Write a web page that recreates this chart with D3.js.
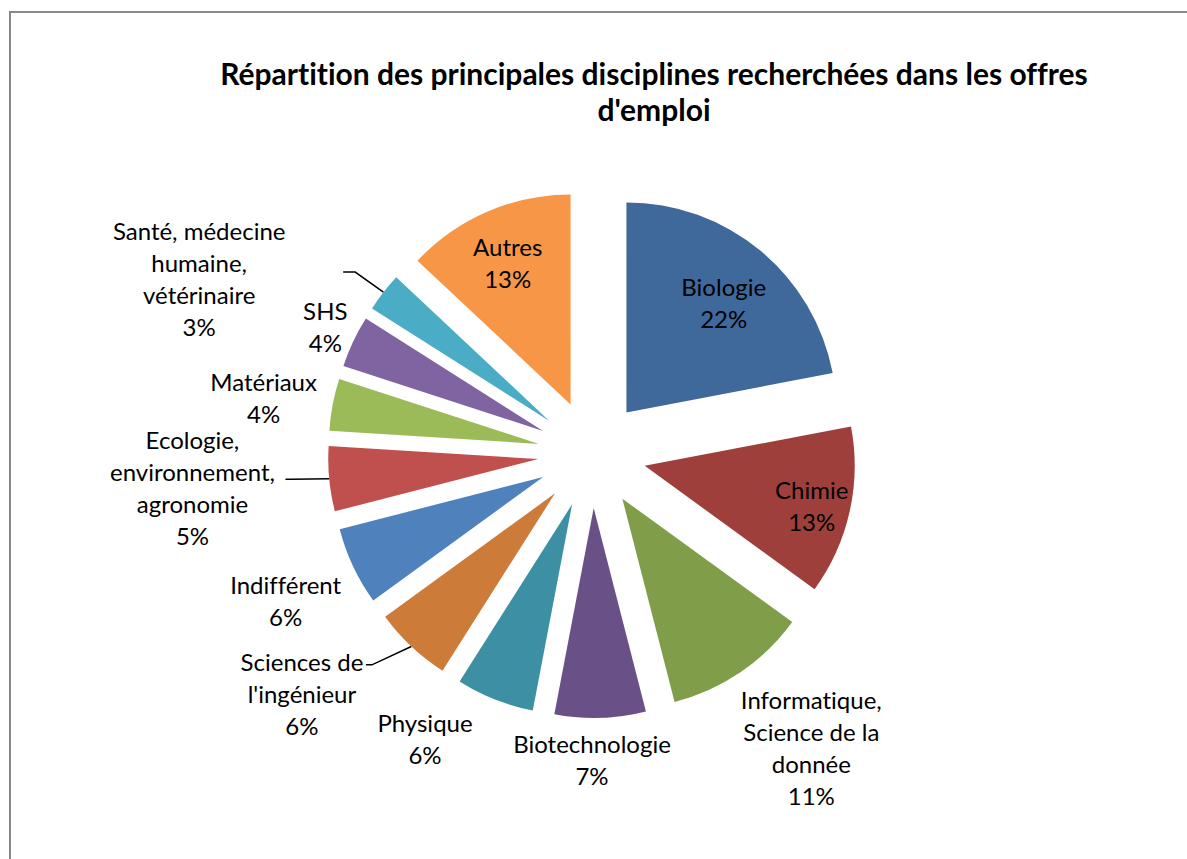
<!DOCTYPE html>
<html lang="fr">
<head>
<meta charset="utf-8">
<script src="https://d3js.org/d3.v7.min.js"></script>
<style type="text/css">
body {
	margin: 0;
	background: #fff;
}
text {
	font-family: Lato, "Open Sans", sans-serif;
	font-variant-ligatures: none;
	fill: #000;
}
</style>
</head>
<body>
<div id="pie_chart"></div>
<script type="text/javascript">

// chart data
var categories = ["Biologie", "Chimie", "Informatique, Science de la donnée", "Biotechnologie",
	"Physique", "Sciences de l'ingénieur", "Indifférent", "Ecologie, environnement, agronomie",
	"Matériaux", "SHS", "Santé, médecine humaine, vétérinaire", "Autres"];
var values = [22, 13, 11, 7, 6, 6, 6, 5, 4, 4, 3, 13];
var colors = ["#3F689B", "#9E3F3C", "#809E4A", "#695087", "#3D8FA3", "#CD7B38",
	"#4F81BD", "#C0504D", "#9BBB59", "#8064A2", "#4BACC6", "#F79646"];
// how the category names wrap on the labels
var labelLines = [["Biologie"], ["Chimie"], ["Informatique,", "Science de la", "donnée"], ["Biotechnologie"],
	["Physique"], ["Sciences de", "l'ingénieur"], ["Indifférent"], ["Ecologie,", "environnement,", "agronomie"],
	["Matériaux"], ["SHS"], ["Santé, médecine", "humaine,", "vétérinaire"], ["Autres"]];
var title = ["Répartition des principales disciplines recherchées dans les offres", "d'emploi"];

// label placement : distance from pie centre, angle shift (deg), leader end / elbow relative to label
var labelDist  = [200, 226, 367, 307, 331, 377, 340, 401, 333, 295, 430, 208];
var labelShift = [1.6, 0.9, -2.5, 1.8, 8.7, 7.1, -0.5, 0.5, -1.3, 0.1, -13.8, -0.5];
var leaders = {5: [[64, -30], [70, -30]], 7: [[93, -9], [99, -9]], 10: [[144, -7], [156, -7]]};

var width = 1187;
var height = 859;
var cx = 592, cy = 454;
var radius = 210;
var explode = 54;
var lineH = 32;

var svg = d3.select("#pie_chart")
	.append("svg")
	.attr("width", width)
	.attr("height", height);

// chart frame
svg.append("rect")
	.attr("x", 10)
	.attr("y", 12)
	.attr("width", width + 20)
	.attr("height", height + 20)
	.attr("fill", "none")
	.attr("stroke", "#898989")
	.attr("stroke-width", 2);

svg.append("text")
	.attr("text-anchor", "middle")
	.style("font-size", "30px")
	.style("font-weight", "bold")
	.selectAll("tspan")
	.data(title)
	.enter()
	.append("tspan")
	.attr("x", 654)
	.attr("y", function(d, i) { return 85 + i * 36; })
	.text(function(d) { return d; });

var total = d3.sum(values);
var fmt = d3.format(".0%");

var pie = d3.pie()
	.sort(null)
	.value(function(d) { return d; });
var slices = pie(values);

var arc = d3.arc()
	.innerRadius(0)
	.outerRadius(radius);

function mid(d) { return (d.startAngle + d.endAngle) / 2; }

var g = svg.append("g")
	.attr("transform", "translate(" + cx + "," + cy + ")");

g.selectAll("path")
	.data(slices)
	.enter()
	.append("path")
	.attr("d", arc)
	.attr("transform", function(d) {
		var a = mid(d);
		return "translate(" + (Math.sin(a) * explode) + "," + (-Math.cos(a) * explode) + ")";
	})
	.attr("fill", function(d, i) { return colors[i]; });

// label centres
var labelPos = slices.map(function(d, i) {
	var a = mid(d) + labelShift[i] * Math.PI / 180;
	return [Math.sin(a) * labelDist[i], -Math.cos(a) * labelDist[i]];
});

// leader lines
Object.keys(leaders).forEach(function(k) {
	var i = +k;
	var d = slices[i];
	var a = mid(d);
	var r0 = explode + radius;
	var p = labelPos[i];
	var pts = [
		[p[0] + leaders[k][0][0], p[1] + leaders[k][0][1]],
		[p[0] + leaders[k][1][0], p[1] + leaders[k][1][1]],
		[Math.sin(a) * r0, -Math.cos(a) * r0]
	];
	g.append("path")
		.attr("d", d3.line()(pts))
		.attr("fill", "none")
		.attr("stroke", "#000")
		.attr("stroke-width", 1.5);
});

var labels = g.selectAll("text.lbl")
	.data(slices)
	.enter()
	.append("text")
	.attr("class", "lbl")
	.attr("text-anchor", "middle")
	.style("font-size", "24px");

labels.each(function(d, i) {
	var lines = labelLines[i].concat([fmt(values[i] / total)]);
	var top = labelPos[i][1] - (lines.length - 1) * lineH / 2;
	d3.select(this).selectAll("tspan")
		.data(lines)
		.enter()
		.append("tspan")
		.attr("x", labelPos[i][0])
		.attr("y", function(t, j) { return top + j * lineH; })
		.attr("dy", "0.35em")
		.text(function(t) { return t; });
});

</script>
</body>
</html>
